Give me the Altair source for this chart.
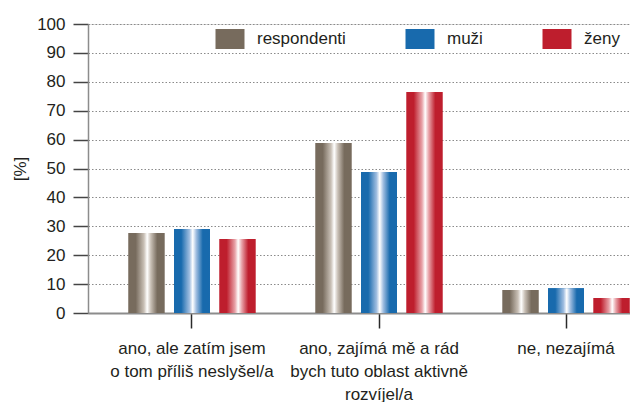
import altair as alt
import pandas as pd

categories = [
    "ano, ale zatím jsem\no tom příliš neslyšel/a",
    "ano, zajímá mě a rád\nbych tuto oblast aktivně\nrozvíjel/a",
    "ne, nezajímá",
]
series = ["respondenti", "muži", "ženy"]
respondenti = [27.7, 58.8, 8.0]
muzi = [29.1, 48.8, 8.6]
zeny = [25.6, 76.5, 5.2]
colors = ["#776b5d", "#186aad", "#be1e2d"]
y_ticks = list(range(0, 101, 10))

rows = []
for name, vals in zip(series, [respondenti, muzi, zeny]):
    for c, v in zip(categories, vals):
        rows.append({"kat": c, "skupina": name, "hodnota": v})
df = pd.DataFrame(rows)

FONT = "Liberation Sans, Arial, Helvetica, sans-serif"
TXT = "#231f20"

x_enc = alt.X(
    "kat:N",
    sort=categories,
    scale=alt.Scale(range=[0, 582], paddingInner=0, paddingOuter=0.056),
    axis=alt.Axis(
        title=None,
        labelAngle=0,
        labelExpr="split(datum.label, '\\n')",
        labelLineHeight=23,
        labelFontSize=17,
        labelFont=FONT,
        labelColor=TXT,
        labelPadding=12,
        labelBaseline="top",
        tickSize=15,
        tickColor="#2a2a2a",
        tickWidth=1.5,
        domainColor="#8c8c8c",
        domainWidth=2,
        grid=False,
    ),
)
xo_enc = alt.XOffset(
    "skupina:N",
    sort=series,
    scale=alt.Scale(domain=series, paddingInner=0.21, paddingOuter=0.66),
)
y_enc = alt.Y(
    "hodnota:Q",
    scale=alt.Scale(domain=[0, 100], nice=False),
    axis=alt.Axis(
        title="[%]",
        titleFont=FONT,
        titleFontSize=17,
        titleFontWeight="normal",
        titleColor=TXT,
        titlePadding=7,
        values=y_ticks,
        labelFontSize=17,
        labelFont=FONT,
        labelColor=TXT,
        labelPadding=8,
        tickSize=15,
        tickColor="#444444",
        tickWidth=1.5,
        domainColor="#8c8c8c",
        domainWidth=1.5,
        grid=True,
        gridColor="#8a8a8a",
        gridDash=[1.5, 2],
        gridWidth=1,
    ),
)

base = alt.Chart(df).mark_bar().encode(
    x=x_enc,
    xOffset=xo_enc,
    y=y_enc,
    color=alt.Color(
        "skupina:N",
        sort=series,
        scale=alt.Scale(domain=series, range=colors),
        legend=alt.Legend(
            title=None,
            orient="none",
            legendX=132,
            legendY=5,
            direction="horizontal",
            columns=3,
            columnPadding=59,
            symbolType="M-1.45,-1H1.45V1H-1.45Z",
            symbolSize=400,
            symbolStrokeWidth=0,
            labelOffset=17,
            labelFont=FONT,
            labelFontSize=17,
            labelColor=TXT,
            padding=0,
        ),
    ),
)


def grad(c, light):
    return alt.Gradient(
        gradient="linear",
        x1=0, x2=1, y1=0, y2=0,
        stops=[
            alt.GradientStop(color=c, offset=0),
            alt.GradientStop(color=c, offset=0.2),
            alt.GradientStop(color=light, offset=0.43),
            alt.GradientStop(color="#ffffff", offset=0.52),
            alt.GradientStop(color=light, offset=0.62),
            alt.GradientStop(color=c, offset=0.8),
            alt.GradientStop(color=c, offset=1),
        ],
    )


lights = ["#c9c0b6", "#9fbde0", "#e8a2a8"]
layers = [base]
for s, c, l in zip(series, colors, lights):
    layers.append(
        alt.Chart(df)
        .transform_filter(alt.datum.skupina == s)
        .mark_bar(fill=grad(c, l))
        .encode(x=x_enc, xOffset=xo_enc, y=y_enc)
    )

chart = (
    alt.layer(*layers)
    .properties(
        width=542,
        height=289,
        autosize=alt.AutoSizeParams(type="none"),
        padding={"left": 80, "top": 16, "right": 0, "bottom": 89},
    )
    .configure_view(stroke=None)
    .configure(background="white")
)

chart.save("out.html", embed_options={"renderer": "svg", "actions": False})
